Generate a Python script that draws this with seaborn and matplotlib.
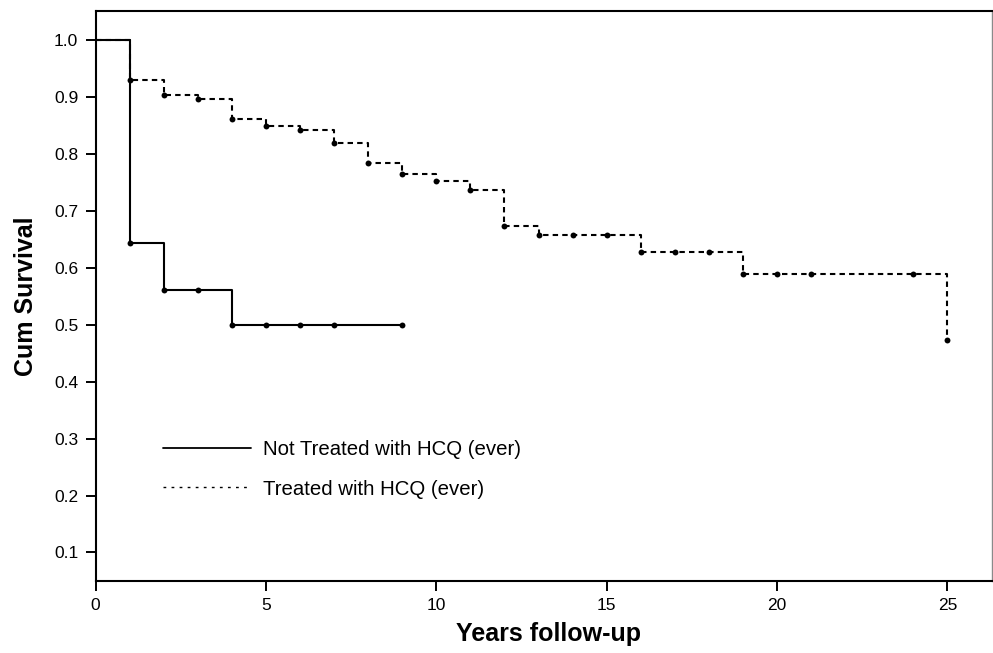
import pandas as pd
import matplotlib
matplotlib.use("Agg")
import matplotlib.pyplot as plt
import seaborn as sns
from matplotlib.lines import Line2D

# survival, yearly steps
not_treated_years = [0, 1, 2, 3, 4, 5, 6, 7, 9]
not_treated_surv = [1.0, 0.643, 0.561, 0.561, 0.500, 0.500, 0.500, 0.500, 0.500]

treated_years = [0, 1, 2, 3, 4, 5, 6, 7, 8, 9, 10, 11, 12, 13, 14, 15, 16, 17, 18, 19, 20, 21, 24, 25]
treated_surv = [1.0, 0.930, 0.903, 0.896, 0.861, 0.849, 0.842, 0.819, 0.784, 0.764, 0.752, 0.737,
                0.674, 0.658, 0.658, 0.658, 0.628, 0.628, 0.628, 0.589, 0.589, 0.589, 0.589, 0.474]

x_ticks = [0, 5, 10, 15, 20, 25]
y_ticks = [0.1, 0.2, 0.3, 0.4, 0.5, 0.6, 0.7, 0.8, 0.9, 1.0]
labels = ["Not Treated with HCQ (ever)", "Treated with HCQ (ever)"]

nt = pd.DataFrame({"year": not_treated_years, "surv": not_treated_surv})
tr = pd.DataFrame({"year": treated_years, "surv": treated_surv})

sns.set_theme(style="ticks")
plt.rcParams["font.family"] = ["Liberation Sans", "DejaVu Sans"]
plt.rcParams["text.color"] = "black"
plt.rcParams["axes.labelcolor"] = "black"

fig = plt.figure(figsize=(9.93, 6.53), dpi=100)
ax = fig.add_axes([0.0962, 0.1103, 0.9025, 0.873])

# treated (dashed) first so the solid line sits on top at year 1
sns.lineplot(data=tr, x="year", y="surv", ax=ax, color="black", linewidth=1.5,
             drawstyle="steps-post", linestyle=(0, (2.6, 2.0)), estimator=None)
sns.scatterplot(data=tr[tr["year"] > 0], x="year", y="surv", ax=ax, color="black",
                s=18, edgecolor="black", linewidth=0, zorder=3)

sns.lineplot(data=nt, x="year", y="surv", ax=ax, color="black", linewidth=1.5,
             drawstyle="steps-post", estimator=None)
sns.scatterplot(data=nt[nt["year"] > 0], x="year", y="surv", ax=ax, color="black",
                s=18, edgecolor="black", linewidth=0, zorder=3)

ax.set_xlim(0, 26.3)
ax.set_ylim(0.05, 1.051)
ax.set_xticks(x_ticks)
ax.set_yticks(y_ticks)
ax.set_yticklabels([f"{v:.1f}" for v in y_ticks])
ax.tick_params(axis="both", direction="out", length=7.5, width=1.4, labelsize=12.5,
               pad=5, color="black", labelcolor="black")

for side in ["left", "bottom", "top"]:
    ax.spines[side].set_linewidth(1.5)
    ax.spines[side].set_color("black")
ax.spines["right"].set_linewidth(1.0)
ax.spines["right"].set_color("#8a8a8a")

ax.set_xlabel("Years follow-up", fontsize=18, fontweight="bold")
ax.xaxis.set_label_coords(0.506, -0.072)
ax.set_ylabel("Cum Survival", fontsize=18, fontweight="bold")
ax.yaxis.set_label_coords(-0.064, 0.5)

handles = [Line2D([], [], color="black", linewidth=1.3),
           Line2D([], [], color="black", linewidth=1.0, linestyle=(0, (2, 3.8)))]
ax.legend(handles, labels, loc="center left", bbox_to_anchor=(163 / 993, 1 - 469.4 / 653),
          bbox_transform=fig.transFigure, frameon=False, fontsize=14.7, handlelength=4.3,
          handletextpad=0.62, labelspacing=1.0, borderpad=0, borderaxespad=0)

fig.savefig("out.png", dpi=100)
